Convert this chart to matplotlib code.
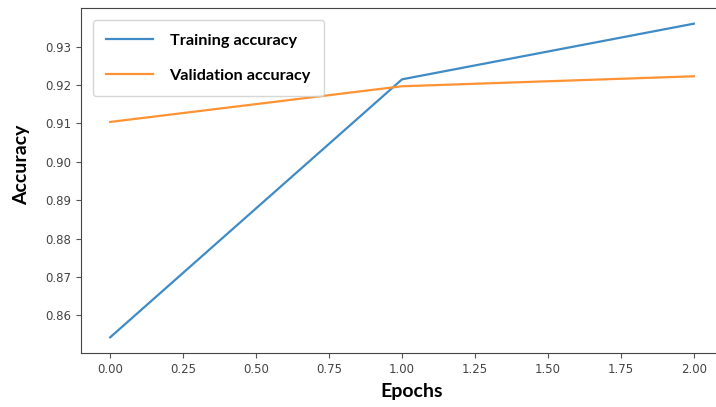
import matplotlib
matplotlib.use('Agg')
import matplotlib.pyplot as plt

epochs = [0, 1, 2]
train_acc = [0.8543, 0.9215, 0.9360]
val_acc = [0.9104, 0.9197, 0.9223]
xticks = [0.00, 0.25, 0.50, 0.75, 1.00, 1.25, 1.50, 1.75, 2.00]
yticks = [0.86, 0.87, 0.88, 0.89, 0.90, 0.91, 0.92, 0.93]

fig = plt.figure(figsize=(7.16, 4.07), dpi=100)
ax = fig.add_axes([81 / 716, 1 - 353 / 407, 642 / 716, 345 / 407])

ax.plot(epochs, train_acc, color='#3f8bc6', lw=1.6, label='Training accuracy')
ax.plot(epochs, val_acc, color='#ff9233', lw=1.6, label='Validation accuracy')

ax.set_xticks(xticks)
ax.set_xticklabels(['%.2f' % t for t in xticks])
ax.set_yticks(yticks)
ax.set_yticklabels(['%.2f' % t for t in yticks])
ax.tick_params(labelsize=8.5, colors='#555555', labelcolor='#444444', length=3.5)
for s in ax.spines.values():
    s.set_color('#444444')
ax.spines['right'].set_visible(False)

leg = ax.legend(loc='upper left', prop={'family': 'Lato', 'weight': 'bold', 'size': 11.7},
                handlelength=2.9, handletextpad=1.0, labelspacing=1.3,
                borderpad=0.8, borderaxespad=0.75, edgecolor='#cccccc')

fig.text(22 / 716, 1 - 165 / 407, 'Accuracy', rotation=90, ha='center', va='center',
         fontsize=14, fontweight='bold', family='Lato')
fig.text(412 / 716, 1 - 392 / 407, 'Epochs', ha='center', va='center',
         fontsize=14, fontweight='bold', family='Lato')

fig.savefig('out.png', dpi=100)
